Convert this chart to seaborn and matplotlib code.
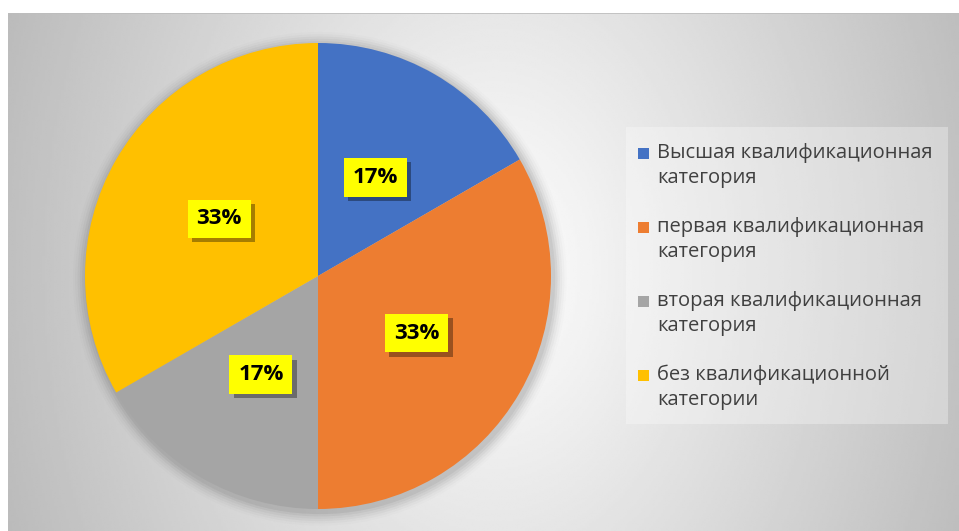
import numpy as np
import matplotlib
matplotlib.use("Agg")
import matplotlib.pyplot as plt
import matplotlib.patheffects as pe
from matplotlib.patches import Rectangle
import seaborn as sns

sns.set_theme(style="white")
plt.rcParams['font.family'] = ['Open Sans', 'DejaVu Sans']

categories = ["Высшая квалификационная\nкатегория",
              "первая квалификационная\nкатегория",
              "вторая квалификационная\nкатегория",
              "без квалификационной\nкатегории"]
values = [1, 2, 1, 2]
pct_labels = ["17%", "33%", "17%", "33%"]
colors = ["#4472C4", "#ED7D31", "#A5A5A5", "#FFC000"]

W, H = 959, 531
fig = plt.figure(figsize=(W / 100, H / 100), dpi=100)
fig.patch.set_facecolor("white")

# background radial gradient (chart area)
bg = fig.add_axes([8 / W, 0, 1 - 8 / W, (H - 13) / H])
bg.set_axis_off()
xs = np.linspace(8, W, 400)
ys = np.linspace(13, H, 240)
X, Y = np.meshgrid(xs, ys)
d = np.sqrt(((X - 495) / 470) ** 2 + ((Y - 270) / 650) ** 2)
val = np.clip(1 - 0.24 * d, 0, 1)
bg.imshow(val, cmap="gray", vmin=0, vmax=1, aspect="auto",
          extent=[0, 1, 0, 1], interpolation="bilinear")
bg.set_xlim(0, 1)
bg.set_ylim(0, 1)
bg.plot([0, 1], [1, 1], color="#bdbdbd", lw=1.2, transform=bg.transAxes)

# legend box background
fig.patches.append(Rectangle((626 / W, (H - 424) / H), (948 - 626) / W, (424 - 127) / H,
                             transform=fig.transFigure, facecolor="white", alpha=0.3,
                             edgecolor="none", zorder=1))

R = 233
cx, cy = 318, H - 276
ax = fig.add_axes([(cx - R) / W, (cy - R) / H, 2 * R / W, 2 * R / H])
ax.set_facecolor("none")

# soft shadow
for i, a in enumerate(np.linspace(0.05, 0.01, 6)):
    c = plt.Circle((0.008, -0.012), 1.0 + 0.01 * (i + 1), color="black", alpha=a, lw=0,
                   zorder=0, clip_on=False)
    ax.add_patch(c)

wedges, _ = ax.pie(values, colors=colors, startangle=90, counterclock=False,
                   wedgeprops=dict(linewidth=0), radius=1.0)
for w in wedges:
    w.set_zorder(2)

# percent labels
tot = sum(values)
ang = 90.0
for v, lab in zip(values, pct_labels):
    span = 360.0 * v / tot
    mid = np.deg2rad(ang - span / 2)
    ang -= span
    r = 0.49
    t = ax.text(r * np.cos(mid), r * np.sin(mid), lab, ha="center", va="center",
                fontsize=16, fontweight="bold", color="black", zorder=5,
                bbox=dict(boxstyle="square,pad=0.4", facecolor="#FFFF00", edgecolor="none"))
    t.get_bbox_patch().set_path_effects([pe.SimplePatchShadow(offset=(3, -3), alpha=0.35, shadow_rgbFace="black"),
                                         pe.Normal()])

ax.set_xlim(-1, 1)
ax.set_ylim(-1, 1)
ax.set_aspect("equal")
ax.set_axis_off()

# legend (markers aligned with the first line of each entry)
sq = 11
for i, (lab, col) in enumerate(zip(categories, colors)):
    y0 = 153 + 74 * i
    fig.patches.append(Rectangle((638 / W, (H - y0 - sq / 2) / H), sq / W, sq / H,
                                 transform=fig.transFigure, facecolor=col,
                                 edgecolor="none", zorder=3))
    fig.text(657 / W, (H - y0 - 12.5) / H, lab, ha="left", va="center",
             fontsize=14.5, color="#404040", linespacing=1.32)

fig.savefig("out.png", dpi=100)
